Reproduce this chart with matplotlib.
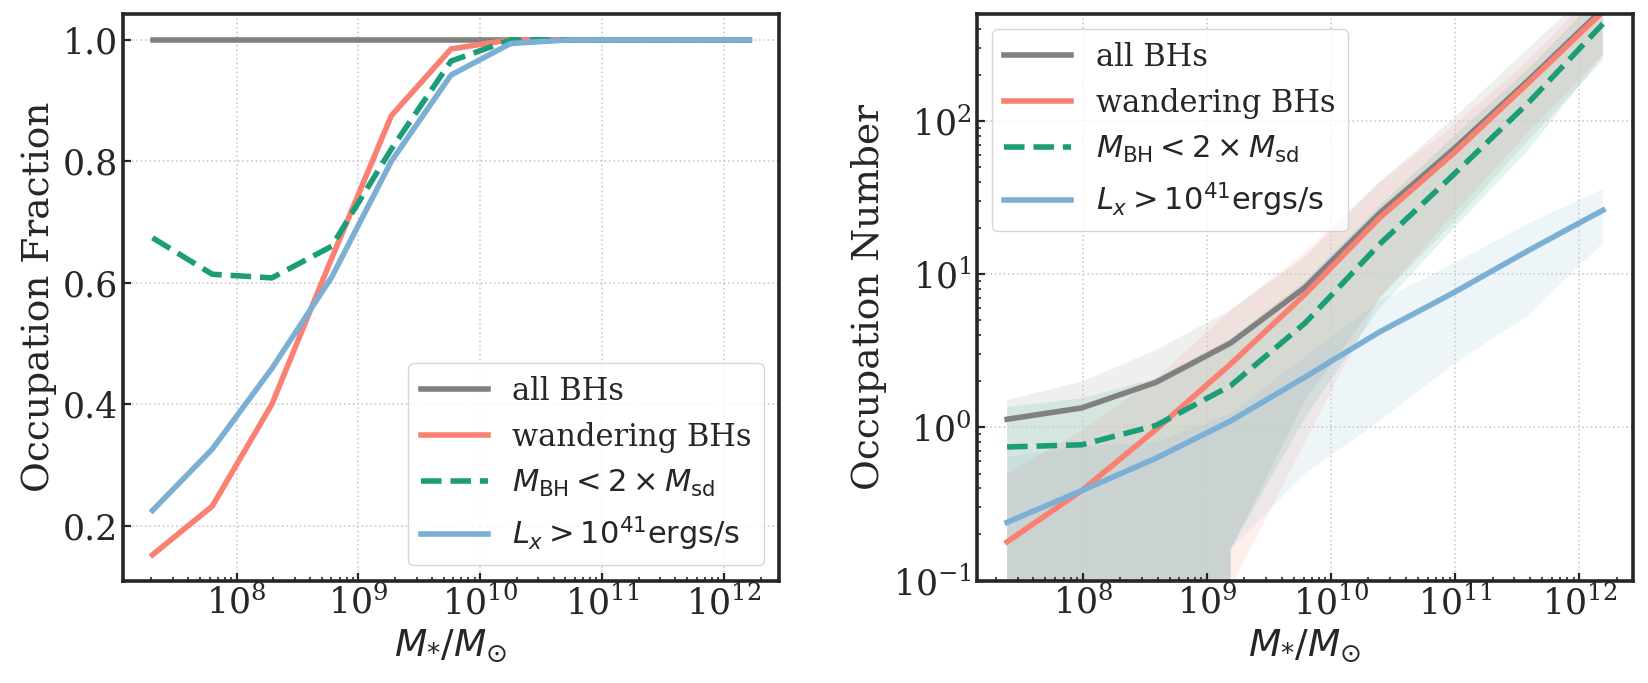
import numpy as np
import matplotlib
matplotlib.use("Agg")
import matplotlib.pyplot as plt

# stellar mass bins (log10 M*/Msun)
logm_frac = np.array([7.31, 7.80, 8.29, 8.78, 9.27, 9.76, 10.25, 10.74, 11.23, 11.72, 12.21])
logm_num = np.array([7.39, 7.99, 8.59, 9.19, 9.79, 10.39, 10.99, 11.59, 12.19])

# occupation fraction
frac_all = [1.0, 1.0, 1.0, 1.0, 1.0, 1.0, 1.0, 1.0, 1.0, 1.0, 1.0]
frac_wander = [0.152, 0.232, 0.400, 0.640, 0.875, 0.985, 1.0, 1.0, 1.0, 1.0, 1.0]
frac_msd = [0.674, 0.614, 0.608, 0.660, 0.820, 0.965, 1.0, 1.0, 1.0, 1.0, 1.0]
frac_lx = [0.225, 0.326, 0.459, 0.609, 0.800, 0.942, 0.994, 1.0, 1.0, 1.0, 1.0]

# occupation number: median and band
num_all = [1.13, 1.34, 1.97, 3.55, 8.2, 25.0, 66.0, 185.0, 540.0]
num_all_lo = [0.0, 0.0, 0.0, 0.16, 1.5, 7.0, 22.0, 75.0, 250.0]
num_all_hi = [1.51, 1.99, 3.2, 5.85, 13.0, 40.0, 105.0, 300.0, 850.0]

num_wander = [0.179, 0.386, 0.97, 2.59, 7.4, 23.3, 62.0, 178.0, 520.0]
num_wander_lo = [0.0, 0.0, 0.0, 0.09, 0.8, 7.0, 25.0, 85.0, 270.0]
num_wander_hi = [0.5, 0.95, 2.1, 5.8, 14.0, 40.0, 94.0, 250.0, 800.0]

num_msd = [0.745, 0.77, 1.03, 1.87, 4.8, 15.7, 45.0, 132.0, 432.0]
num_msd_lo = [0.0, 0.0, 0.0, 0.16, 1.16, 6.0, 20.0, 65.0, 268.0]
num_msd_hi = [1.36, 1.55, 2.09, 3.8, 9.0, 28.0, 80.0, 220.0, 700.0]

num_lx = [0.24, 0.386, 0.63, 1.1, 2.13, 4.2, 7.6, 14.3, 26.2]
num_lx_lo = [0.0, 0.0, 0.0, 0.16, 0.5, 1.1, 2.6, 5.4, 16.0]
num_lx_hi = [0.64, 0.75, 0.8, 1.23, 2.9, 6.7, 11.8, 21.5, 36.0]

labels = ["all BHs", "wandering BHs",
          r"$M_{\rm BH} < 2\times M_{\rm sd}$",
          r"$L_x > 10^{41}{\rm ergs/s}$"]
colors = ["grey", "salmon", "#1b9e77", "#7bafd4"]
styles = ["-", "-", "--", "-"]

plt.rcParams.update({
    "font.family": "serif",
    "font.serif": ["DejaVu Serif"],
    "mathtext.fontset": "dejavusans",
    "font.size": 25,
    "text.color": "#262626",
    "axes.labelcolor": "#262626",
    "axes.labelsize": 27,
    "axes.edgecolor": "#262626",
    "axes.linewidth": 2.6,
    "xtick.color": "#262626",
    "ytick.color": "#262626",
    "xtick.direction": "in",
    "ytick.direction": "in",
    "xtick.major.size": 6,
    "ytick.major.size": 6,
    "xtick.minor.size": 3,
    "ytick.minor.size": 3,
    "xtick.major.width": 1.6,
    "ytick.major.width": 1.6,
    "xtick.minor.width": 1.2,
    "ytick.minor.width": 1.2,
    "xtick.labelsize": 25,
    "ytick.labelsize": 25,
    "legend.fontsize": 22,
})

fig = plt.figure(figsize=(16.49, 6.83), dpi=100)
ax1 = fig.add_axes([0.0744, 0.150, 0.3982, 0.8294])
ax2 = fig.add_axes([0.5923, 0.150, 0.3982, 0.8294])

# left: occupation fraction
mf = 10 ** logm_frac
for y, lab, c, ls in zip([frac_all, frac_wander, frac_msd, frac_lx], labels, colors, styles):
    ax1.plot(mf, y, ls, color=c, lw=4, label=lab)
ax1.set_xscale("log")
ax1.set_ylabel("Occupation Fraction")
ax1.set_xlabel(r"$M_{*}/M_{\odot}$")
ax1.set_yticks([0.2, 0.4, 0.6, 0.8, 1.0])
ax1.grid(True, ls=":", color="0.8", lw=1.2)
ax1.legend(loc="lower right", framealpha=0.8, edgecolor="0.8", handlelength=2.2)

# right: occupation number
mn = 10 ** logm_num
meds = [num_all, num_wander, num_msd, num_lx]
los = [num_all_lo, num_wander_lo, num_msd_lo, num_lx_lo]
his = [num_all_hi, num_wander_hi, num_msd_hi, num_lx_hi]
for med, lo, hi, lab, c, ls in zip(meds, los, his, labels, colors, styles):
    ax2.fill_between(mn, lo, hi, color=c, alpha=0.12, lw=0)
    ax2.plot(mn, med, ls, color=c, lw=4, label=lab)
ax2.set_xscale("log")
ax2.set_yscale("log")
ax2.set_ylim(0.1, 500)
ax2.set_xlim(10 ** 7.145, 10 ** 12.435)
ax2.set_ylabel("Occupation Number")
ax2.set_xlabel(r"$M_{*}/M_{\odot}$")
ax2.grid(True, ls=":", color="0.8", lw=1.2)
ax2.legend(loc="upper left", framealpha=0.8, edgecolor="0.8", handlelength=2.2)

fig.savefig("out.png", dpi=100)
